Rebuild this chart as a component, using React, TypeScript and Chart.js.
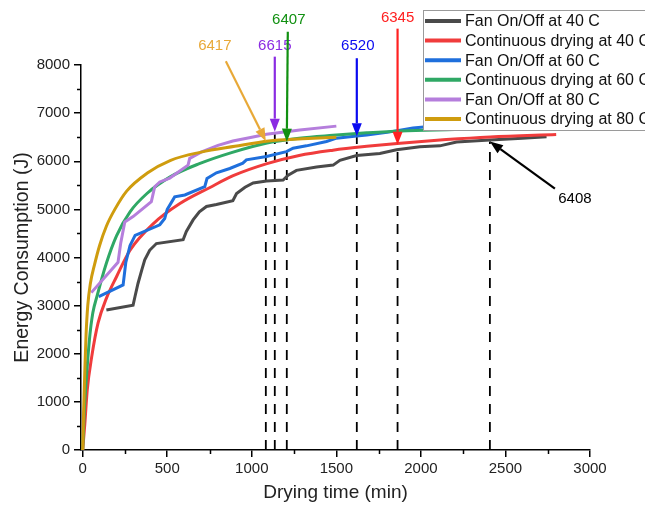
import React, { useEffect, useRef } from 'react';
import { Chart, registerables } from 'chart.js';

Chart.register(...registerables);

const FONT = '"Liberation Sans", Arial, sans-serif';

// Series names (legend order)
const seriesNames = [
  'Fan On/Off at 40 C',
  'Continuous drying at 40 C',
  'Fan On/Off at 60 C',
  'Continuous drying at 60 C',
  'Fan On/Off at 80 C',
  'Continuous drying at 80 C',
];
const seriesColors = ['#4a4a4a', '#f03c3c', '#1f6fdc', '#2fa865', '#b57edc', '#cf9c0e'];

// Fan On/Off at 40 C
const fan40T = [140, 298, 310, 327, 350, 367, 396, 436, 594, 613, 653, 690, 732, 791, 888, 910, 960, 1008, 1087, 1185, 1215, 1264, 1383, 1481, 1521, 1620, 1757, 1856, 1994, 2112, 2211, 2408, 2600, 2743];
const fan40V = [2910, 3010, 3200, 3460, 3750, 3950, 4150, 4290, 4370, 4540, 4780, 4950, 5060, 5100, 5180, 5330, 5460, 5550, 5590, 5610, 5710, 5810, 5880, 5920, 6020, 6120, 6160, 6240, 6300, 6320, 6400, 6440, 6480, 6510];

// Continuous drying at 40 C
const cont40T = [0, 13, 27, 53, 91, 140, 200, 280, 420, 575, 750, 890, 1090, 1280, 1480, 1680, 1860, 2150, 2410, 2800];
const cont40V = [0, 560, 1250, 1930, 2640, 3150, 3600, 4150, 4710, 5120, 5450, 5700, 5950, 6120, 6230, 6310, 6370, 6450, 6505, 6555];

// Fan On/Off at 60 C
const fan60T = [95, 239, 255, 280, 310, 456, 485, 500, 544, 604, 722, 735, 791, 870, 947, 968, 1087, 1205, 1244, 1323, 1442, 1501, 1620, 1680, 1800, 1953, 2050];
const fan60V = [3186, 3430, 3900, 4250, 4460, 4680, 4810, 5000, 5260, 5300, 5470, 5640, 5760, 5850, 5960, 6030, 6100, 6200, 6270, 6320, 6410, 6480, 6525, 6545, 6600, 6690, 6720];

// Continuous drying at 60 C
const cont60T = [0, 5, 10, 20, 40, 60, 85, 140, 200, 280, 380, 520, 690, 880, 1090, 1280, 1480, 1680, 1880, 2200];
const cont60V = [0, 450, 850, 1400, 2300, 2850, 3200, 3880, 4450, 4950, 5330, 5680, 5950, 6180, 6380, 6480, 6540, 6590, 6630, 6660];

// Fan On/Off at 80 C
const fan80T = [51, 209, 225, 249, 298, 406, 426, 456, 515, 623, 633, 700, 800, 888, 1000, 1087, 1284, 1500];
const fan80V = [3270, 3900, 4300, 4740, 4850, 5160, 5470, 5570, 5650, 5920, 6060, 6190, 6330, 6420, 6500, 6560, 6650, 6730];

// Continuous drying at 80 C
const cont80T = [0, 4, 8, 13, 20, 30, 45, 70, 100, 140, 190, 260, 380, 520, 700, 900, 1100, 1300, 1500];
const cont80V = [0, 600, 1100, 1700, 2400, 3000, 3450, 3850, 4250, 4650, 5000, 5380, 5750, 6020, 6190, 6310, 6420, 6465, 6500];

// Annotations
const annotTimes = [1083, 1136, 1207, 1621, 1862, 2408];
const annotValues = [6417, 6615, 6407, 6520, 6345, 6408];
const annotLabels = ['6417', '6615', '6407', '6520', '6345', '6408'];
const annotColors = ['#e8a938', '#8a2be2', '#119011', '#0a0af0', '#ff2020', '#000000'];

// Ticks
const xTicks = [0, 500, 1000, 1500, 2000, 2500, 3000];
const xMinor = [250, 750, 1250, 1750, 2250, 2750];
const yTicks = [0, 1000, 2000, 3000, 4000, 5000, 6000, 7000, 8000];
const yMinor = [500, 1500, 2500, 3500, 4500, 5500, 6500, 7500];

// styling: arrow tail / label offsets in pixels relative to arrow tip
const arrowStyle = [
  { tdx: -40, tdy: -80, ldx: -51, ldy: -95 },
  { tdx: 0, tdy: -75, ldx: 0, ldy: -86 },
  { tdx: 1, tdy: -110, ldx: 2, ldy: -122 },
  { tdx: 0, tdy: -78, ldx: 1, ldy: -90 },
  { tdx: 0, tdy: -116, ldx: 0, ldy: -127 },
  { tdx: 65, tdy: 47, ldx: 85, ldy: 57 },
];

const mk = (t: number[], v: number[]) => t.map((x, i) => ({ x, y: v[i] }));

const overlayPlugin = {
  id: 'overlay',
  afterDatasetsDraw(chart: any) {
    const { ctx, scales } = chart;
    const x = scales.x;
    const y = scales.y;
    const ca = chart.chartArea;
    ctx.save();
    // minor ticks
    ctx.strokeStyle = '#000';
    ctx.lineWidth = 1.5;
    ctx.beginPath();
    xMinor.forEach((v) => {
      const px = Math.round(x.getPixelForValue(v)) + 0.5;
      ctx.moveTo(px, ca.bottom);
      ctx.lineTo(px, ca.bottom + 4);
    });
    yMinor.forEach((v) => {
      const py = Math.round(y.getPixelForValue(v)) + 0.5;
      ctx.moveTo(ca.left, py);
      ctx.lineTo(ca.left - 4, py);
    });
    ctx.stroke();

    // arrows
    annotTimes.forEach((t, i) => {
      const tx = x.getPixelForValue(t);
      const ty = y.getPixelForValue(annotValues[i]);
      const st = arrowStyle[i];
      const sx = tx + st.tdx;
      const sy = ty + st.tdy;
      const ang = Math.atan2(ty - sy, tx - sx);
      const hl = 13;
      const hw = 5;
      const bx = tx - hl * Math.cos(ang);
      const by = ty - hl * Math.sin(ang);
      ctx.strokeStyle = annotColors[i];
      ctx.fillStyle = annotColors[i];
      ctx.lineWidth = 2.2;
      ctx.beginPath();
      ctx.moveTo(sx, sy);
      ctx.lineTo(bx, by);
      ctx.stroke();
      ctx.beginPath();
      ctx.moveTo(tx, ty);
      ctx.lineTo(bx + hw * Math.sin(ang), by - hw * Math.cos(ang));
      ctx.lineTo(bx - hw * Math.sin(ang), by + hw * Math.cos(ang));
      ctx.closePath();
      ctx.fill();
      ctx.font = `15px ${FONT}`;
      ctx.textAlign = 'center';
      ctx.textBaseline = 'middle';
      ctx.fillText(annotLabels[i], tx + st.ldx, ty + st.ldy);
    });
    ctx.restore();
  },
  afterDraw(chart: any) {
    const { ctx } = chart;
    ctx.save();
    const bx = 423.5;
    const by = 10.5;
    ctx.fillStyle = '#fff';
    ctx.fillRect(bx, by, 250, 120);
    ctx.strokeStyle = '#9a9a9a';
    ctx.lineWidth = 1;
    ctx.strokeRect(bx, by, 250, 120);
    seriesNames.forEach((name, i) => {
      const ry = 21 + i * 19.6;
      ctx.strokeStyle = seriesColors[i];
      ctx.lineWidth = 4;
      ctx.beginPath();
      ctx.moveTo(425, ry);
      ctx.lineTo(461, ry);
      ctx.stroke();
      ctx.fillStyle = '#111';
      ctx.font = `16px ${FONT}`;
      ctx.textAlign = 'left';
      ctx.textBaseline = 'middle';
      ctx.fillText(name, 465, ry + 1);
    });
    ctx.restore();
  },
};

export default function App() {
  const ref = useRef<HTMLCanvasElement>(null);
  useEffect(() => {
    if (!ref.current) return;
    const series = [
      mk(fan40T, fan40V),
      mk(cont40T, cont40V),
      mk(fan60T, fan60V),
      mk(cont60T, cont60V),
      mk(fan80T, fan80V),
      mk(cont80T, cont80V),
    ];
    const datasets: any[] = series.map((d, i) => ({
      label: seriesNames[i],
      data: d,
      borderColor: seriesColors[i],
      backgroundColor: seriesColors[i],
      borderWidth: 3,
      pointRadius: 0,
      fill: false,
      tension: 0,
      cubicInterpolationMode: i % 2 === 1 ? 'monotone' : 'default',
      order: 6 - i,
    }));
    annotTimes.forEach((t, i) => {
      datasets.push({
        label: 'ref' + i,
        data: [
          { x: t, y: 0 },
          { x: t, y: annotValues[i] },
        ],
        borderColor: '#000',
        borderWidth: 1.8,
        borderDash: [10, 8],
        pointRadius: 0,
        fill: false,
        order: 20,
      });
    });
    const chart = new Chart(ref.current, {
      type: 'line',
      data: { datasets },
      plugins: [overlayPlugin],
      options: {
        animation: false,
        responsive: false,
        devicePixelRatio: 1,
        layout: { padding: { top: 65, right: 55, left: 0, bottom: 0 } },
        plugins: { legend: { display: false }, tooltip: { enabled: false } },
        scales: {
          x: {
            type: 'linear',
            min: -10,
            max: 3000,
            afterBuildTicks: (s: any) => {
              s.ticks = xTicks.map((v) => ({ value: v }));
            },
            afterFit: (s: any) => {
              s.height = 57;
            },
            grid: { display: true, drawOnChartArea: false, drawTicks: true, tickLength: 7, color: '#000', lineWidth: 1.5 },
            border: { display: true, color: '#000', width: 1.5 },
            ticks: { font: { family: FONT, size: 15 }, color: '#222', padding: 3, maxRotation: 0, callback: (v: any) => String(v) },
            title: { display: true, text: 'Drying time (min)', font: { family: FONT, size: 19 }, color: '#222', padding: { top: 0, bottom: 3 } },
          },
          y: {
            type: 'linear',
            min: 0,
            max: 8000,
            afterBuildTicks: (s: any) => {
              s.ticks = yTicks.map((v) => ({ value: v }));
            },
            afterFit: (s: any) => {
              s.width = 81;
            },
            grid: { display: true, drawOnChartArea: false, drawTicks: true, tickLength: 7, color: '#000', lineWidth: 1.5 },
            border: { display: true, color: '#000', width: 1.5 },
            ticks: { font: { family: FONT, size: 15 }, color: '#222', padding: 4, callback: (v: any) => String(v) },
            title: { display: true, text: 'Energy Consumption (J)', font: { family: FONT, size: 19.5 }, color: '#222', padding: { top: 11, bottom: 0 } },
          },
        },
      } as any,
    });
    return () => chart.destroy();
  }, []);
  return (
    <div style={{ position: 'fixed', left: 0, top: 0, width: 645, height: 507, overflow: 'hidden', background: '#fff' }}>
      <canvas ref={ref} width={645} height={507} style={{ display: 'block', width: 645, height: 507 }} />
    </div>
  );
}
